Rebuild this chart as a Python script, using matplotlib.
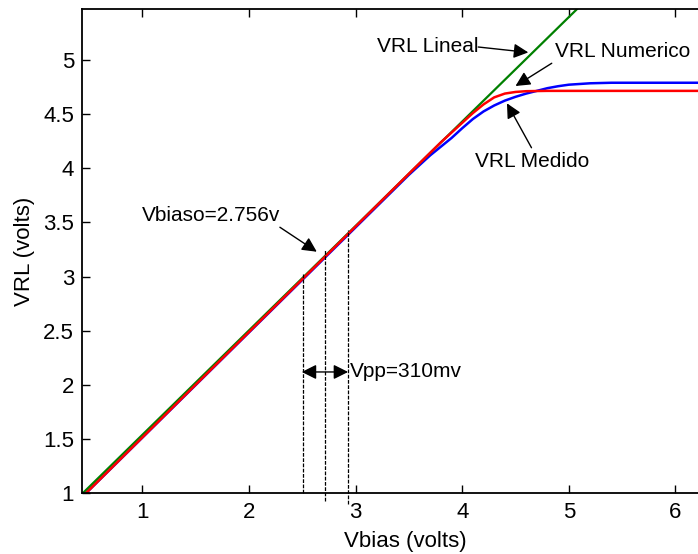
import matplotlib
matplotlib.use("Agg")
import matplotlib.pyplot as plt

plt.rcParams['font.family'] = ['Liberation Sans', 'DejaVu Sans']

# VRL Lineal (ideal straight line)
vbias_lin = [0.44, 5.3]
vrl_lin = [1.0, 5.685]

# VRL Numerico (simulated)
vbias_num = [0.47, 1.0, 2.0, 3.0, 3.5, 3.8, 4.0, 4.1, 4.2, 4.3, 4.4, 4.5, 4.6, 4.8, 6.3]
vrl_num = [1.0, 1.516, 2.489, 3.463, 3.95, 4.24, 4.42, 4.51, 4.59, 4.655, 4.69, 4.705,
           4.712, 4.715, 4.715]

# VRL Medido (measured)
vbias_med = [0.47, 1.0, 2.0, 3.0, 3.5, 3.7, 3.8, 3.9, 4.0, 4.1, 4.2, 4.3, 4.4, 4.5,
             4.6, 4.7, 4.8, 4.9, 5.0, 5.2, 5.4, 6.3]
vrl_med = [1.0, 1.514, 2.485, 3.455, 3.94, 4.12, 4.20, 4.28, 4.37, 4.455, 4.525, 4.58,
           4.625, 4.66, 4.69, 4.715, 4.74, 4.758, 4.772, 4.785, 4.79, 4.79]

# operating point marks
vbias_marks = [2.51, 2.715, 2.93]
vrl_marks_top = [3.03, 3.25, 3.43]
vrl_marks_bot = [1.0, 0.93, 0.90]

fig = plt.figure(figsize=(6.98, 5.54), dpi=100)
ax = fig.add_axes([0.118, 0.1096, 0.926, 0.8736])

ax.plot(vbias_med, vrl_med, color='#0000ff', lw=1.8)
ax.plot(vbias_lin, vrl_lin, color='#008000', lw=1.6)
ax.plot(vbias_num, vrl_num, color='#ff0000', lw=1.8)

for xv, yt, yb in zip(vbias_marks, vrl_marks_top, vrl_marks_bot):
    ax.plot([xv, xv], [yb, yt], color='k', lw=0.9, ls=(0, (3, 1.2)), clip_on=False)

ax.set_xlim(0.437, 6.5)
ax.set_ylim(1, 5.468)
ax.set_xticks([1, 2, 3, 4, 5, 6])
ax.set_yticks([1, 1.5, 2, 2.5, 3, 3.5, 4, 4.5, 5])
ax.set_yticklabels(['1', '1.5', '2', '2.5', '3', '3.5', '4', '4.5', '5'])
ax.tick_params(direction='in', length=6, width=1, labelsize=16, top=True, right=True,
               pad=6)
for s in ax.spines.values():
    s.set_linewidth(1.3)

ax.set_xlabel('Vbias (volts)', fontsize=16, labelpad=6)
ax.set_ylabel('VRL (volts)', fontsize=16, labelpad=6)

arrow = dict(arrowstyle='-|>', color='k', lw=1, mutation_scale=22,
             shrinkA=0, shrinkB=0)
fs = 15

ax.text(3.20, 5.124, 'VRL Lineal', fontsize=fs, va='center', ha='left')
ax.annotate('', xy=(4.62, 5.07), xytext=(4.15, 5.12), arrowprops=arrow)

ax.text(4.87, 5.08, 'VRL Numerico', fontsize=fs, va='center', ha='left')
ax.annotate('', xy=(4.50, 4.76), xytext=(4.84, 4.97), arrowprops=arrow)

ax.text(4.12, 4.06, 'VRL Medido', fontsize=fs, va='center', ha='left')
ax.annotate('', xy=(4.42, 4.60), xytext=(4.65, 4.19), arrowprops=arrow)

ax.text(0.994, 3.56, 'Vbiaso=2.756v', fontsize=fs, va='center', ha='left')
ax.annotate('', xy=(2.636, 3.23), xytext=(2.29, 3.456), arrowprops=arrow)

ax.text(2.948, 2.123, 'Vpp=310mv', fontsize=fs, va='center', ha='left')
ax.annotate('', xy=(2.495, 2.12), xytext=(2.93, 2.12),
            arrowprops=dict(arrowstyle='<|-|>', color='k', lw=1, mutation_scale=22,
                            shrinkA=0, shrinkB=0))

fig.savefig('out.png', dpi=100)
